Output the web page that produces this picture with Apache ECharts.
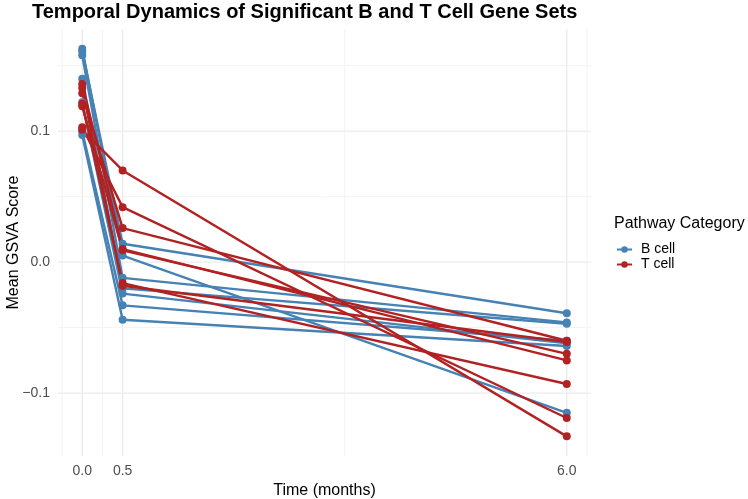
<!DOCTYPE html>
<html>
<head>
<meta charset="utf-8">
<script src="https://cdn.jsdelivr.net/npm/echarts@6/dist/echarts.min.js"></script>
<style>
html,body{margin:0;padding:0;background:#fff;}
#chart{width:748px;height:499px;}
</style>
</head>
<body>
<div id="chart"></div>
<script>
// Time points (months)
const times = [0, 0.5, 6];
const xTickLabels = ['0.0', '0.5', '6.0'];
const yTickValues = [-0.1, 0, 0.1];
const yTickLabels = ['\u22120.1', '0.0', '0.1'];

// Mean GSVA score per gene set at times 0, 0.5, 6
const bCellSets = [
  [0.163, 0.005, -0.115],
  [0.161, 0.014, -0.039],
  [0.158, -0.012, -0.046],
  [0.140, -0.020, -0.047],
  [0.122, -0.024, -0.062],
  [0.100, -0.033, -0.060],
  [0.097, -0.044, -0.064]
];
const tCellSets = [
  [0.101, 0.070, -0.133],
  [0.103, 0.042, -0.119],
  [0.129, 0.026, -0.060],
  [0.136, 0.010, -0.075],
  [0.119, 0.009, -0.070],
  [0.121, -0.016, -0.093],
  [0.133, -0.018, -0.061]
];

const xMin = -0.3, xMax = 6.3, yMin = -0.148, yMax = 0.178;
const majorX = [0, 0.5, 6];
const minorX = [-0.25, 0.25, 3.25, 6.25];
const majorY = [-0.1, 0, 0.1];
const minorY = [-0.05, 0.05, 0.15];

const BLUE = '#4682B4';
const RED = '#B22222';
const FONT = 'Liberation Sans';

function mkSeries(name, vals, color) {
  return {
    name: name,
    type: 'line',
    z: 5,
    data: times.map((t, i) => [t, vals[i]]),
    symbol: 'circle',
    symbolSize: 8,
    itemStyle: { color: color, borderWidth: 0 },
    lineStyle: { color: color, width: 2.4 },
    emphasis: { disabled: true },
    animation: false
  };
}

function gridSeries(points, color, width) {
  return {
    type: 'line', name: '_grid', z: 1, silent: true, animation: false,
    data: points, symbol: 'none',
    lineStyle: { color: color, width: width },
    emphasis: { disabled: true }, tooltip: { show: false }
  };
}

const series = [];
minorX.forEach(v => series.push(gridSeries([[v, yMin], [v, yMax]], '#F3F3F3', 1)));
minorY.forEach(v => series.push(gridSeries([[xMin, v], [xMax, v]], '#F3F3F3', 1)));
majorX.forEach(v => series.push(gridSeries([[v, yMin], [v, yMax]], '#EBEBEB', 1.3)));
majorY.forEach(v => series.push(gridSeries([[xMin, v], [xMax, v]], '#EBEBEB', 1.3)));
bCellSets.forEach(v => series.push(mkSeries('B cell', v, BLUE)));
tCellSets.forEach(v => series.push(mkSeries('T cell', v, RED)));

const chart = echarts.init(document.getElementById('chart'));
chart.setOption({
  animation: false,
  backgroundColor: '#fff',
  textStyle: { fontFamily: FONT },
  title: [{
    text: 'Temporal Dynamics of Significant B and T Cell Gene Sets',
    left: 27, top: -3,
    textStyle: { fontFamily: FONT, fontWeight: 'bold', fontSize: 20, color: '#000' }
  }, {
    text: 'Pathway Category',
    left: 609, top: 211,
    textStyle: { fontFamily: FONT, fontWeight: 'normal', fontSize: 16, color: '#000' }
  }],
  legend: {
    data: ['B cell', 'T cell'],
    orient: 'vertical',
    left: 611, top: 237,
    itemWidth: 15, itemHeight: 8,
    itemGap: 0,
    textStyle: { fontFamily: FONT, fontSize: 14, color: '#000', lineHeight: 15, padding: [0, 0, 0, 4] },
    selectedMode: false
  },
  grid: { left: 58, right: 157, top: 29, bottom: 43, containLabel: false, outerBoundsMode: 'none' },
  xAxis: {
    type: 'value',
    min: xMin, max: xMax,
    name: 'Time (months)',
    nameLocation: 'middle',
    nameGap: 25,
    nameTextStyle: { fontFamily: FONT, fontSize: 16, color: '#000' },
    axisLine: { show: false },
    axisTick: { show: false },
    splitLine: { show: false },
    axisLabel: {
      customValues: majorX,
      margin: 8,
      fontFamily: FONT, fontSize: 14, color: '#4D4D4D',
      formatter: v => xTickLabels[majorX.indexOf(v)] ?? ''
    }
  },
  yAxis: {
    type: 'value',
    min: yMin, max: yMax,
    name: 'Mean GSVA Score',
    nameLocation: 'middle',
    nameGap: 36,
    nameMoveOverlap: false,
    nameTextStyle: { fontFamily: FONT, fontSize: 16, color: '#000' },
    axisLine: { show: false },
    axisTick: { show: false },
    splitLine: { show: false },
    axisLabel: {
      customValues: yTickValues,
      margin: 8,
      fontFamily: FONT, fontSize: 14, color: '#4D4D4D',
      formatter: v => {
        const i = yTickValues.findIndex(t => Math.abs(t - v) < 1e-9);
        return i >= 0 ? yTickLabels[i] : '';
      }
    }
  },
  series: series
});
</script>
</body>
</html>
